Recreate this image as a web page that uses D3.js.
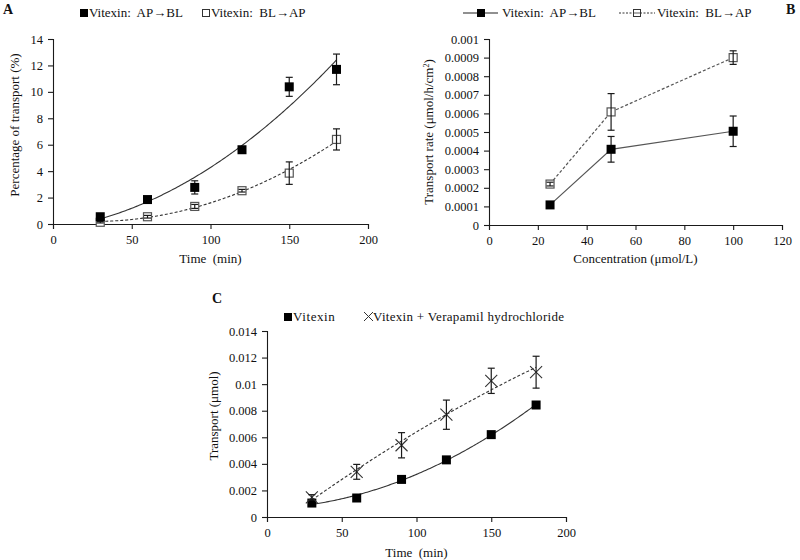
<!DOCTYPE html>
<html><head><meta charset="utf-8">
<script src="https://cdn.jsdelivr.net/npm/d3@7"></script>
<style>
body{margin:0;background:#fff;}
svg text{font-family:"Liberation Serif","Times New Roman",serif;fill:#111;}
</style></head>
<body><svg id="c" width="800" height="560"></svg>
<script>
// ---------- Data ----------
const timesA = [30, 60, 90, 120, 150, 180];
const apblA = [0.55, 1.85, 2.77, 5.62, 10.38, 11.7];
const apblAErr = [0.12, 0.15, 0.5, 0.2, 0.72, 1.16];
const blapA = [0.13, 0.55, 1.33, 2.52, 3.85, 6.4];
const blapAErr = [0.05, 0.1, 0.15, 0.1, 0.85, 0.8];

const concB = [25, 50, 100];
const apblB = [0.000108, 0.000407, 0.000504];
const apblBErr = [0.000005, 0.000069, 0.000082];
const blapB = [0.00022, 0.000608, 0.0009];
const blapBErr = [0.00001, 0.0000985, 0.0000365];

const timesC = [30, 60, 90, 120, 150, 180];
const vitC = [0.00105, 0.00143, 0.00283, 0.0043, 0.0062, 0.00843];
const vitCErr = [0.00005, 0.00005, 0.00005, 0.00005, 0.00005, 0.00025];
const verC = [0.00148, 0.0034, 0.0054, 0.0077, 0.01025, 0.0109];
const verCErr = [0.0002, 0.00056, 0.00095, 0.0011, 0.00095, 0.0012];

const ticksA_x = [0, 50, 100, 150, 200];
const ticksA_y = [0, 2, 4, 6, 8, 10, 12, 14];
const ticksB_x = [0, 20, 40, 60, 80, 100, 120];
const ticksB_y = [0, 0.0001, 0.0002, 0.0003, 0.0004, 0.0005, 0.0006, 0.0007, 0.0008, 0.0009, 0.001];
const ticksC_x = [0, 50, 100, 150, 200];
const ticksC_y = [0, 0.002, 0.004, 0.006, 0.008, 0.01, 0.012, 0.014];

// ---------- helpers ----------
const svg = d3.select("#c");
const INK = "#1a1a1a";
const FS = 13;
const TFS = 12.5;

function polyFit2(xs, ys) {
  // least squares quadratic (trendline)
  let S = [0,0,0,0,0], T = [0,0,0];
  xs.forEach((x,i)=>{ for(let k=0;k<5;k++) S[k]+=Math.pow(x,k); for(let k=0;k<3;k++) T[k]+=ys[i]*Math.pow(x,k); });
  const M = [[S[0],S[1],S[2],T[0]],[S[1],S[2],S[3],T[1]],[S[2],S[3],S[4],T[2]]];
  for (let i=0;i<3;i++){ for(let j=i+1;j<3;j++){ const f=M[j][i]/M[i][i]; for(let k=i;k<4;k++) M[j][k]-=f*M[i][k]; } }
  const c=[0,0,0];
  for (let i=2;i>=0;i--){ let s=M[i][3]; for(let k=i+1;k<3;k++) s-=M[i][k]*c[k]; c[i]=s/M[i][i]; }
  return x => c[0]+c[1]*x+c[2]*x*x;
}

function fmt(v){ return String(+v.toFixed(6)); }

function makePanel(opt) {
  const x = d3.scaleLinear().domain(opt.xDom).range(opt.xr);
  const y = d3.scaleLinear().domain(opt.yDom).range(opt.yr);
  const g = svg.append("g");
  const xa = g.append("g").attr("transform",`translate(0,${opt.yr[0]})`)
    .call(d3.axisBottom(x).tickValues(opt.xt).tickFormat(fmt).tickSizeOuter(0).tickSize(5).tickPadding(6));
  const ya = g.append("g").attr("transform",`translate(${opt.xr[0]},0)`)
    .call(d3.axisLeft(y).tickValues(opt.yt).tickFormat(fmt).tickSizeOuter(0).tickSize(5).tickPadding(5));
  [xa,ya].forEach(a=>{
    a.selectAll("path,line").attr("stroke",INK).attr("stroke-width",1.1);
    a.selectAll("text").attr("font-size",TFS).attr("fill","#111");
  });
  g.append("text").attr("x",(opt.xr[0]+opt.xr[1])/2).attr("y",opt.xlabY)
    .attr("text-anchor","middle").attr("font-size",FS).attr("xml:space","preserve").text(opt.xlab);
  const yl = g.append("text").attr("transform",`translate(${opt.ylabX},${opt.ylabC}) rotate(-90)`)
    .attr("text-anchor","middle").attr("font-size",FS).attr("xml:space","preserve");
  opt.ylab(yl);
  return {g,x,y};
}

function errBars(p, xs, ys, es, cap) {
  p.g.append("g").selectAll("g").data(xs).join("g").each(function(d,i){
    const s = d3.select(this), cx = p.x(d), y1 = p.y(ys[i]+es[i]), y0 = p.y(ys[i]-es[i]);
    s.append("line").attr("x1",cx).attr("x2",cx).attr("y1",y1).attr("y2",y0).attr("stroke",INK).attr("stroke-width",1.2);
    s.append("line").attr("x1",cx-cap).attr("x2",cx+cap).attr("y1",y1).attr("y2",y1).attr("stroke",INK).attr("stroke-width",1.2);
    s.append("line").attr("x1",cx-cap).attr("x2",cx+cap).attr("y1",y0).attr("y2",y0).attr("stroke",INK).attr("stroke-width",1.2);
  });
}
function squares(p, xs, ys, filled, size) {
  p.g.append("g").selectAll("rect").data(xs).join("rect")
    .attr("x",(d)=>p.x(d)-size/2).attr("y",(d,i)=>p.y(ys[i])-size/2)
    .attr("width",size).attr("height",size)
    .attr("fill",filled?"#000":"#fff").attr("stroke",filled?"#000":"#555").attr("stroke-width",filled?0:1.2);
}
function crosses(p, xs, ys, r) {
  p.g.append("g").selectAll("path").data(xs).join("path")
    .attr("d",(d,i)=>{const cx=p.x(d), cy=p.y(ys[i]); return `M${cx-r},${cy-r}L${cx+r},${cy+r}M${cx-r},${cy+r}L${cx+r},${cy-r}`;})
    .attr("stroke","#333").attr("stroke-width",1.1).attr("fill","none");
}
function trend(p, xs, ys, dashed) {
  const f = polyFit2(xs, ys);
  const pts = d3.range(xs[0], xs[xs.length-1]+0.01, 1).map(t=>[t,f(t)]);
  p.g.append("path").attr("d", d3.line().x(d=>p.x(d[0])).y(d=>p.y(d[1])).curve(d3.curveLinear)(pts))
    .attr("fill","none").attr("stroke","#333").attr("stroke-width",1.1)
    .attr("stroke-dasharray",dashed?"3,2":null);
}
function polyline(p, xs, ys, dashed) {
  p.g.append("path").attr("d", d3.line().x((d)=>p.x(d)).y((d,i)=>p.y(ys[i]))(xs))
    .attr("fill","none").attr("stroke","#555").attr("stroke-width",1.2)
    .attr("stroke-dasharray",dashed?"3,2":null);
}

// ---------- Panel A ----------
const A = makePanel({xDom:[0,200], yDom:[0,14], xr:[53,368], yr:[224,39], xt:ticksA_x, yt:ticksA_y,
  xlab:"Time  (min)", xlabY:263, ylabX:19, ylabC:125,
  ylab: t=>t.text("Percentage of transport (%)")});
trend(A, timesA, apblA, false);
trend(A, timesA, blapA, true);
squares(A, timesA, blapA, false, 8);
errBars(A, timesA, blapA, blapAErr, 3.5);
errBars(A, timesA, apblA, apblAErr, 3.5);
squares(A, timesA, apblA, true, 9);
// legend A
svg.append("text").attr("x",3).attr("y",14).attr("font-size",14).attr("font-weight","bold").text("A");
svg.append("rect").attr("x",80).attr("y",9).attr("width",8).attr("height",8).attr("fill","#000");
svg.append("text").attr("x",89).attr("y",17).attr("font-size",FS).attr("xml:space","preserve").text("Vitexin:  AP\u2192BL");
svg.append("rect").attr("x",202.5).attr("y",9.5).attr("width",7).attr("height",7).attr("fill","#fff").attr("stroke","#333").attr("stroke-width",1);
svg.append("text").attr("x",211).attr("y",17).attr("font-size",FS).attr("xml:space","preserve").text("Vitexin:  BL\u2192AP");

// ---------- Panel B ----------
const B = makePanel({xDom:[0,120], yDom:[0,0.001], xr:[489,782], yr:[225,39], xt:ticksB_x, yt:ticksB_y,
  xlab:"Concentration (\u03bcmol/L)", xlabY:263, ylabX:433, ylabC:132,
  ylab: t=>{ t.append("tspan").text("Transport rate (\u03bcmol/h/cm");
             t.append("tspan").attr("dy",-4).attr("font-size",8).text("2");
             t.append("tspan").attr("dy",4).text(")"); }});
polyline(B, concB, apblB, false);
polyline(B, concB, blapB, true);
squares(B, concB, blapB, false, 8);
errBars(B, concB, blapB, blapBErr, 3.5);
errBars(B, concB, apblB, apblBErr, 3.5);
squares(B, concB, apblB, true, 9);
// legend B
svg.append("line").attr("x1",463).attr("x2",498).attr("y1",13).attr("y2",13).attr("stroke","#222").attr("stroke-width",1.2);
svg.append("rect").attr("x",477).attr("y",9).attr("width",8).attr("height",8).attr("fill","#000");
svg.append("text").attr("x",502).attr("y",17).attr("font-size",FS).attr("xml:space","preserve").text("Vitexin:  AP\u2192BL");
svg.append("line").attr("x1",619).attr("x2",655).attr("y1",13).attr("y2",13).attr("stroke","#333").attr("stroke-width",1).attr("stroke-dasharray","2,1.5");
svg.append("rect").attr("x",633.5).attr("y",9.5).attr("width",7).attr("height",7).attr("fill","#fff").attr("stroke","#333").attr("stroke-width",1);
svg.append("line").attr("x1",634).attr("x2",640).attr("y1",13).attr("y2",13).attr("stroke","#333").attr("stroke-width",0.8);
svg.append("text").attr("x",657).attr("y",17).attr("font-size",FS).attr("xml:space","preserve").text("Vitexin:  BL\u2192AP");
svg.append("text").attr("x",786).attr("y",14).attr("font-size",14).attr("font-weight","bold").text("B");

// ---------- Panel C ----------
const C = makePanel({xDom:[0,200], yDom:[0,0.014], xr:[267,566], yr:[517,331], xt:ticksC_x, yt:ticksC_y,
  xlab:"Time  (min)", xlabY:557, ylabX:218, ylabC:416,
  ylab: t=>t.text("Transport (\u03bcmol)")});
trend(C, timesC, verC, true);
trend(C, timesC, vitC, false);
errBars(C, timesC, vitC, vitCErr, 3.5);
squares(C, timesC, vitC, true, 9);
crosses(C, timesC, verC, 6);
errBars(C, timesC, verC, verCErr, 3.5);
// legend C
svg.append("text").attr("x",212).attr("y",303).attr("font-size",14).attr("font-weight","bold").text("C");
svg.append("rect").attr("x",284).attr("y",313).attr("width",8).attr("height",8).attr("fill","#000");
svg.append("text").attr("x",293).attr("y",321).attr("font-size",FS).attr("letter-spacing",0.6).text("Vitexin");
svg.append("path").attr("d","M364,312L373,321M364,321L373,312").attr("stroke","#333").attr("stroke-width",1);
svg.append("text").attr("x",373).attr("y",321).attr("font-size",FS).attr("letter-spacing",0.3).text("Vitexin + Verapamil hydrochloride");
</script></body></html>
